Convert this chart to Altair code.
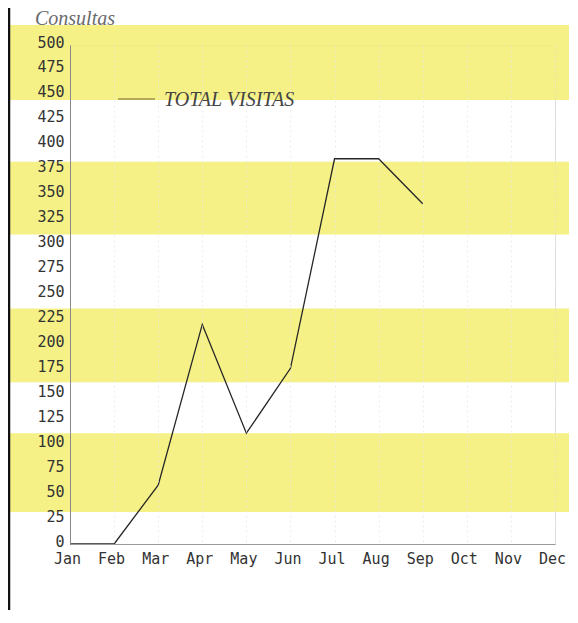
import altair as alt
import pandas as pd

# ---- data ----
months = ["Jan", "Feb", "Mar", "Apr", "May", "Jun", "Jul", "Aug", "Sep", "Oct", "Nov", "Dec"]
visits = [0, 0, 59, 220, 111, 176, 386, 386, 341, None, None, None]
y_ticks = list(range(0, 501, 25))
series_name = "TOTAL VISITAS"
y_title = "Consultas"

# decorative highlighter bands of the scanned page (in y-axis units)
band_start = [445, 310, 162, 32]
band_end = [520, 383, 236, 111]

W, H = 485, 499

df = pd.DataFrame({"month": months, "visits": visits})
bands = pd.DataFrame({"s": band_start, "e": band_end})

y_scale = alt.Scale(domain=[0, 500], nice=False, zero=True)
y_axis = alt.Axis(
    values=y_ticks, title=None, ticks=False, grid=False, zindex=1,
    domainColor="#8a8a8a", labelFont="DejaVu Sans Mono", labelFontSize=15,
    labelColor="#333333", labelPadding=6, labelOffset=-3,
)

band_layer = alt.Chart(bands).mark_rect(color="#f4ef72", opacity=0.85).encode(
    y=alt.Y("s:Q", scale=y_scale, axis=y_axis),
    y2="e:Q",
    x=alt.value(-62),
    x2=alt.value(W + 14),
)

border = alt.Chart(pd.DataFrame({"a": [0]})).mark_rule(color="#111111", strokeWidth=2.5).encode(
    x=alt.value(-61), y=alt.value(-37), y2=alt.value(H + 66)
)

line = alt.Chart(df).mark_line(color="#262626", strokeWidth=1.3).encode(
    x=alt.X(
        "month:O", sort=months,
        scale=alt.Scale(type="point", domain=months, padding=0),
        axis=alt.Axis(
            title=None, labelAngle=0, ticks=False, grid=True, zindex=1,
            gridColor="#e6e6e6", gridDash=[2, 3], gridOpacity=0.7,
            domainColor="#9a9a9a", labelFont="DejaVu Sans Mono", labelFontSize=15,
            labelColor="#333333", labelPadding=7, labelOffset=-3,
        ),
    ),
    y=alt.Y("visits:Q", scale=y_scale, axis=y_axis),
)

title = alt.Chart(pd.DataFrame({"t": [y_title]})).mark_text(
    font="Liberation Serif", fontStyle="italic", fontSize=20, color="#6a6a6a",
    align="left", baseline="alphabetic",
).encode(text="t:N", x=alt.value(-35), y=alt.value(-20))

legend_rule = alt.Chart(pd.DataFrame({"a": [0]})).mark_rule(color="#9c8f4a", strokeWidth=1.5).encode(
    x=alt.value(48), x2=alt.value(85), y=alt.value(54)
)
legend_text = alt.Chart(pd.DataFrame({"t": [series_name]})).mark_text(
    font="Liberation Serif", fontStyle="italic", fontSize=20, color="#444444",
    align="left", baseline="middle",
).encode(text="t:N", x=alt.value(94), y=alt.value(55))

chart = alt.layer(band_layer, border, line, title, legend_rule, legend_text).properties(
    width=W, height=H,
    autosize=alt.AutoSizeParams(type="none"),
    padding={"left": 62, "top": 37, "right": 14, "bottom": 66},
).configure_view(stroke=None).configure(background="white")

chart.save("out.html", embed_options={"renderer": "svg", "actions": False})
